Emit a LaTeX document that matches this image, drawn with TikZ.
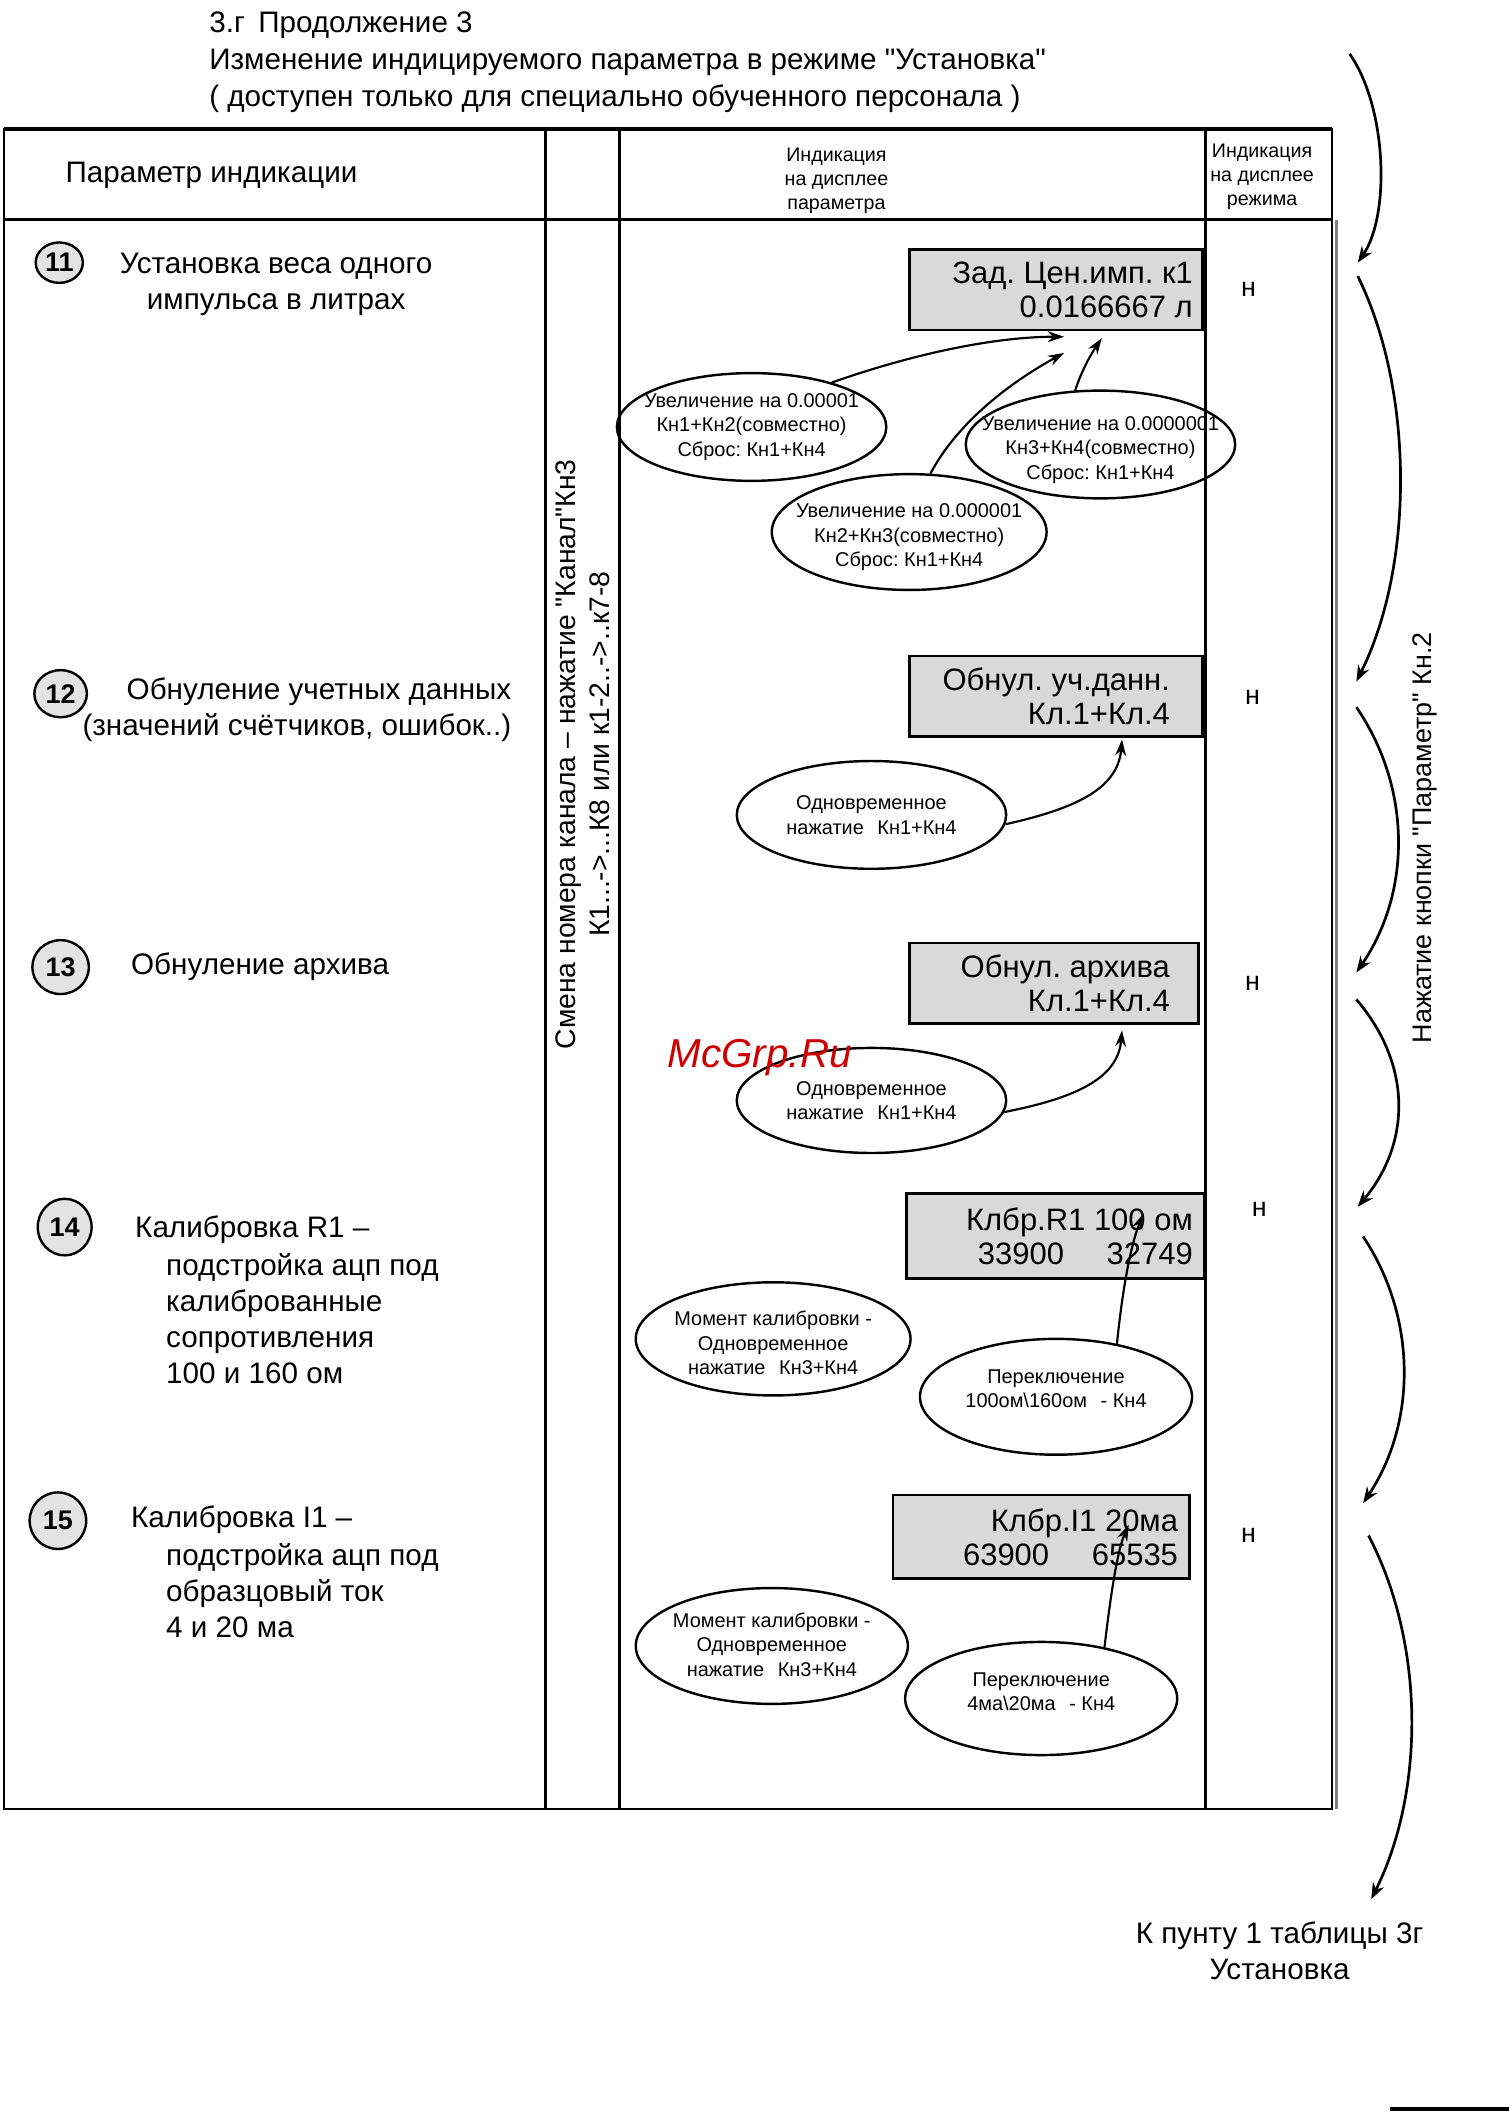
\documentclass[tikz,border=0pt]{standalone}
\usepackage{fontspec}
\setmainfont{Liberation Sans}
\newfontfamily\qfont{Liberation Sans}
\usetikzlibrary{arrows.meta,shapes.geometric}
\newcommand{\myfs}[2]{\fontsize{#1pt}{#2pt}\selectfont}
\newcommand{\sq}{{\qfont\symbol{34}}}
\frenchspacing
\begin{document}
\begin{tikzpicture}[x=0.5pt,y=-0.5pt,
  tbl/.style={line width=1pt},
  lt/.style={inner sep=0pt, font=\myfs{11}{13.3}},
  hdr/.style={inner sep=0pt, font=\myfs{11}{13.75}},
  smalltxt/.style={inner sep=0pt, align=center, font=\myfs{7.3}{8.9}},
  numc/.style={ellipse, draw, line width=0.9pt, fill=gray!22, inner sep=0pt, font=\myfs{10}{12}\bfseries},
  ell/.style={ellipse, draw, line width=0.9pt, inner sep=0pt},
  etext/.style={inner sep=0pt, align=center, font=\myfs{7.4}{9.1}},
  dbox/.style={draw, line width=1pt, fill=gray!30, inner sep=0pt},
  btext/.style={inner sep=0pt, align=right, anchor=east, font=\myfs{11.5}{12.6}},
  modetxt/.style={inner sep=0pt, font=\myfs{10}{12}},
  arr/.style={-{Stealth[length=6pt,width=4pt]}, line width=0.8pt},
  arc/.style={-{Stealth[length=6pt,width=4.5pt]}, line width=1pt}]
\useasboundingbox (0,0) rectangle (1120,1568);

% title
\node[hdr, anchor=west, align=left] (title) at (155,46)
  {3.г\hspace{5pt}Продолжение 3\\Изменение индицируемого параметра в режиме \sq Установка\sq\\( доступен только для специально обученного персонала )};

% table
\draw[tbl] (3,96) rectangle (989,1343);
\draw[line width=1.6pt] (3,96) -- (989,96);
\draw[line width=1.2pt] (3,163) -- (989,163);
\draw[tbl] (405,96) -- (405,1343);
\draw[tbl] (460,96) -- (460,1343);
\draw[tbl] (895,96) -- (895,1343);
\draw[gray, line width=1.2pt] (992,163) -- (992,1343);

\node[hdr] (h1) at (157,130) {Параметр индикации};
\node[smalltxt] (h3) at (621,134) {Индикация\\на дисплее\\параметра};
\node[smalltxt] (h4) at (937,131) {Индикация\\на дисплее\\режима};

\node[rotate=90, align=center, inner sep=0pt, font=\myfs{10.5}{12.6}] (chan) at (433,560)
  {Смена номера канала – нажатие \sq Канал\sq Кн3\\К1...->...К8 или к1-2..->..к7-8};

% row 11
\node[numc, minimum width=17.5pt, minimum height=15pt] (c11) at (44,195) {11};
\node[lt, align=center] (t11) at (205,211) {Установка веса одного\\импульса в литрах};
\node[dbox, minimum width=109pt, minimum height=30pt] (b11) at (784,215) {};
\node[btext] (b11t) at ([xshift=-4pt]b11.east) {Зад. Цен.имп. к1\\0.0166667 л};
\node[modetxt] (m11) at (927,215) {н};
\node[ell, minimum width=100pt, minimum height=40pt] (e1) at (558,317) {};
\node[etext] (e1t) at (558,317) {Увеличение на 0.00001\\Кн1+Кн2(совместно)\\Сброс: Кн1+Кн4};
\node[ell, minimum width=100pt, minimum height=40pt] (e2) at (817,330) {};
\node[etext] (e2t) at (817,334) {Увеличение на 0.0000001\\Кн3+Кн4(совместно)\\Сброс: Кн1+Кн4};
\node[ell, minimum width=102pt, minimum height=43pt] (e3) at (675,395) {};
\node[etext] (e3t) at (675,399) {Увеличение на 0.000001\\Кн2+Кн3(совместно)\\Сброс: Кн1+Кн4};
\coordinate (t1) at (790,250);
\coordinate (t2) at (790,262);
\coordinate (t3) at (818,251);
\draw[arr] (e1.29) .. controls (680,262) and (740,250) .. (t1);
\draw[arr] (e3.70) .. controls (710,315) and (748,285) .. (t2);
\draw[arr] (e2.115) .. controls (803,275) and (810,263) .. (t3);

% row 12
\node[numc, minimum width=19.5pt, minimum height=17.5pt] (c12) at (45,515) {12};
\node[lt, anchor=east, align=right] (t12) at (380,527) {Обнуление учетных данных\\(значений счётчиков, ошибок..)};
\node[dbox, minimum width=109pt, minimum height=30pt] (b12) at (784,517) {};
\node[btext] (b12t) at ([xshift=-12.5pt]b12.east) {Обнул. уч.данн.\\Кл.1+Кл.4};
\node[modetxt] (m12) at (930,518) {н};
\node[ell, minimum width=100pt, minimum height=40pt] (e4) at (647,605) {};
\node[etext] (e4t) at (647,605) {Одновременное\\нажатие\hspace{3pt} Кн1+Кн4};
\coordinate (t4) at (833,549);
\draw[arr] (e4.-4) .. controls (800,600) and (830,585) .. (t4);

% row 13
\node[numc, minimum width=21pt, minimum height=20pt] (c13) at (45,718) {13};
\node[lt, anchor=west] (t13) at (97,718) {Обнуление архива};
\node[dbox, minimum width=107.5pt, minimum height=30pt] (b13) at (782.5,730) {};
\node[btext] (b13t) at ([xshift=-11pt]b13.east) {Обнул. архива\\Кл.1+Кл.4};
\node[modetxt] (m13) at (930,730) {н};
\node[ell, minimum width=100pt, minimum height=39pt] (e5) at (647,817) {};
\node[etext] (e5t) at (647,817) {Одновременное\\нажатие\hspace{3pt} Кн1+Кн4};
\coordinate (t5) at (833,765);
\draw[arr] (e5.-5) .. controls (800,815) and (830,800) .. (t5);

% row 14
\node[numc, minimum width=20pt, minimum height=21pt] (c14) at (48,911) {14};
\node[lt, anchor=west] (t14a) at (100,913) {Калибровка R1 –};
\node[lt, anchor=west, align=left] (t14b) at (123,979) {подстройка ацп под\\калиброванные\\сопротивления\\100 и 160 ом};
\node[dbox, minimum width=110.5pt, minimum height=31.5pt] (b14) at (783.5,917.5) {};
\node[btext] (b14t) at ([xshift=-4.5pt]b14.east) {Клбр.R1 100 ом\\33900\hspace{1.1em} 32749};
\node[modetxt] (m14) at (935,898) {н};
\node[ell, minimum width=102pt, minimum height=42pt] (e6) at (574,994) {};
\node[etext] (e6t) at (574,997) {Момент калибровки -\\Одновременное\\нажатие\hspace{3pt} Кн3+Кн4};
\node[ell, minimum width=101pt, minimum height=43pt] (e7) at (784,1037) {};
\node[etext] (e7t) at (784,1031) {Переключение\\100ом\textbackslash160ом\hspace{3pt} - Кн4};
\coordinate (t6) at (849,901);
\draw[arr] (e7.41) .. controls (834,950) and (841,920) .. (t6);

% row 15
\node[numc, minimum width=21pt, minimum height=21pt] (c15) at (43,1129) {15};
\node[lt, anchor=west] (t15a) at (97,1128) {Калибровка I1 –};
\node[lt, anchor=west, align=left] (t15b) at (123,1181) {подстройка ацп под\\образцовый ток\\4 и 20 ма};
\node[dbox, minimum width=110pt, minimum height=31pt] (b15) at (773,1141) {};
\node[btext] (b15t) at ([xshift=-4.5pt]b15.east) {Клбр.I1 20ма\\63900\hspace{1.1em} 65535};
\node[modetxt] (m15) at (927,1140) {н};
\node[ell, minimum width=101pt, minimum height=43pt] (e8) at (573,1222) {};
\node[etext] (e8t) at (573,1221) {Момент калибровки -\\Одновременное\\нажатие\hspace{3pt} Кн3+Кн4};
\node[ell, minimum width=101pt, minimum height=42pt] (e9) at (773,1261) {};
\node[etext] (e9t) at (773,1256) {Переключение\\4ма\textbackslash20ма\hspace{3pt} - Кн4};
\coordinate (t7) at (838,1132);
\draw[arr] (e9.39) .. controls (825,1180) and (830,1150) .. (t7);

% right-hand chain
\coordinate (r0) at (1002,40);
\coordinate (r1) at (1008,195);
\coordinate (r2) at (1008,205);
\coordinate (r3) at (1007,506);
\coordinate (r4) at (1007,525);
\coordinate (r5) at (1007,722);
\coordinate (r6) at (1007,742);
\coordinate (r7) at (1008,896);
\coordinate (r8) at (1012,918);
\coordinate (r9) at (1012,1116);
\coordinate (r10) at (1016,1140);
\coordinate (r11) at (1018,1410);
\draw[arc] (r0) .. controls (1030,80) and (1032,160) .. (r1);
\draw[arc] (r2) .. controls (1050,290) and (1050,420) .. (r3);
\draw[arc] (r4) .. controls (1048,585) and (1048,662) .. (r5);
\draw[arc] (r6) .. controls (1048,790) and (1048,848) .. (r7);
\draw[arc] (r8) .. controls (1052,978) and (1052,1056) .. (r9);
\draw[arc] (r10) .. controls (1058,1220) and (1058,1330) .. (r11);
\node[rotate=90, inner sep=0pt, font=\myfs{10}{12}] (press) at (1058,622) {Нажатие кнопки \sq Параметр\sq\ Кн.2};

\node[lt, align=center] (ret) at (950,1448) {К пунту 1 таблицы 3г\\Установка};

% watermark and page edge
\node[text=red!80!black, inner sep=0pt, font=\myfs{15}{18}\itshape] (wm) at (564,785) {McGrp.Ru};
\draw[line width=1.5pt] (1032,1566) -- (1120,1566);
\end{tikzpicture}
\end{document}
